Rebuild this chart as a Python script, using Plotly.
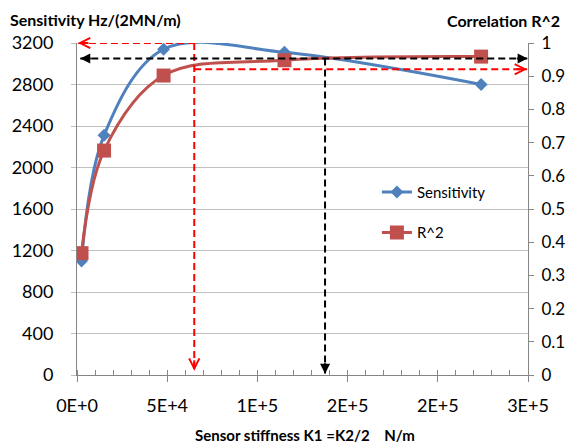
import plotly.graph_objects as go

# ---- data ----
k1 = [2500, 15000, 48000, 115000, 224000]          # sensor stiffness K1 (N/m)
sensitivity = [1100, 2310, 3140, 3110, 2800]        # Hz/(2MN/m)
r_squared = [0.367, 0.676, 0.902, 0.948, 0.959]     # correlation R^2

x_tickvals = [0, 50000, 100000, 150000, 200000, 250000]
x_ticktext = ["0E+0", "5E+4", "1E+5", "2E+5", "2E+5", "3E+5"]

# guide lines (dashed arrows)
red_k = 65000
red_sens = 3200
red_r2 = 0.921
black_k = 137500
black_r2 = 0.953

BLUE = "#4F81BD"
RED = "#C0504D"
AX = "#868686"
GRID = "#BFBFBF"
FONT = "Lato"

fig = go.Figure()
fig.add_trace(go.Scatter(
    x=k1, y=sensitivity, name="Sensitivity", mode="lines+markers",
    line=dict(color=BLUE, width=3, shape="spline", smoothing=1),
    marker=dict(symbol="diamond", size=10, color=BLUE),
    legendgroup="a", yaxis="y"))
fig.add_trace(go.Scatter(
    x=k1, y=r_squared, name="R^2", mode="lines+markers",
    line=dict(color=RED, width=3, shape="spline", smoothing=1),
    marker=dict(symbol="square", size=14, color=RED),
    legendgroup="b", yaxis="y2"))

dash = "7px,4px"
shapes = [
    dict(type="line", xref="x", yref="y", x0=500, x1=red_k, y0=red_sens, y1=red_sens,
         line=dict(color="#FF0000", width=2, dash=dash)),
    dict(type="line", xref="x", yref="y", x0=red_k, x1=red_k, y0=red_sens, y1=40,
         line=dict(color="#FF0000", width=2, dash=dash)),
    dict(type="line", xref="x", yref="y2", x0=red_k, x1=249500, y0=red_r2, y1=red_r2,
         line=dict(color="#FF0000", width=2, dash=dash)),
    dict(type="line", xref="x", yref="y2", x0=1800, x1=249800, y0=black_r2, y1=black_r2,
         line=dict(color="black", width=2, dash=dash)),
    dict(type="line", xref="x", yref="y2", x0=black_k, x1=black_k, y0=black_r2, y1=0.004,
         line=dict(color="black", width=2, dash=dash)),
]

def arrow(x, y, yref, ax, ay, color, head):
    return dict(x=x, y=y, xref="x", yref=yref, ax=ax, ay=ay, text="",
                showarrow=True, arrowhead=head, arrowsize=1, arrowwidth=2,
                arrowcolor=color)

annotations = [
    arrow(500, red_sens, "y", 12, 0, "#FF0000", 5),
    arrow(red_k, 40, "y", 0, -12, "#FF0000", 5),
    arrow(249500, red_r2, "y2", -12, 0, "#FF0000", 5),
    arrow(1800, black_r2, "y2", 12, 0, "black", 2),
    arrow(249800, black_r2, "y2", -12, 0, "black", 2),
    arrow(black_k, 0.004, "y2", 0, -12, "black", 2),
    dict(text="<b>Sensitivity Hz/(2MN/m)</b>", xref="paper", yref="paper",
         x=-0.153, y=1.072, xanchor="left", yanchor="middle", showarrow=False,
         font=dict(family=FONT, size=16, color="black")),
    dict(text="<b>Correlation R^2</b>", xref="paper", yref="paper",
         x=0.816, y=1.069, xanchor="left", yanchor="middle", showarrow=False,
         font=dict(family=FONT, size=16, color="black")),
    dict(text="<b>Sensor stiffness K1 =K2/2\u00a0\u00a0\u00a0\u00a0N/m</b>", xref="paper", yref="paper",
         x=0.5055, y=-0.181, xanchor="center", yanchor="middle", showarrow=False,
         font=dict(family=FONT, size=15, color="black")),
]

fig.update_layout(
    width=571, height=446,
    margin=dict(l=77, r=43, t=43, b=71),
    paper_bgcolor="white", plot_bgcolor="white",
    font=dict(family=FONT, size=18, color="black"),
    showlegend=True,
    legend=dict(x=0.665, y=0.60, xanchor="left", yanchor="top",
                bgcolor="rgba(0,0,0,0)", traceorder="grouped", tracegroupgap=18,
                font=dict(family=FONT, size=15)),
    xaxis=dict(range=[0, 250000], tickvals=x_tickvals, ticktext=x_ticktext,
               automargin=False,
               showgrid=False, zeroline=False, showline=True, linecolor=AX, linewidth=1,
               ticks="outside", ticklen=6, tickcolor=AX, ticklabelstandoff=8,
               minor=dict(ticks="inside", dtick=10000, ticklen=5, tickcolor=AX, showgrid=False)),
    yaxis=dict(range=[0, 3200], dtick=400, showgrid=True, gridcolor=GRID, gridwidth=1,
               automargin=False,
               zeroline=False, showline=True, linecolor=AX, linewidth=1,
               ticks="outside", ticklen=5, tickcolor=GRID, ticklabelstandoff=14),
    yaxis2=dict(range=[0, 1], dtick=0.1, overlaying="y", side="right", showgrid=False,
                automargin=False,
                zeroline=False, showline=True, linecolor=AX, linewidth=1,
                ticks="outside", ticklen=5, tickcolor=AX, ticklabelstandoff=4,
                tickfont=dict(family=FONT, size=17)),
    shapes=shapes, annotations=annotations,
)

fig.write_html("out.html")
